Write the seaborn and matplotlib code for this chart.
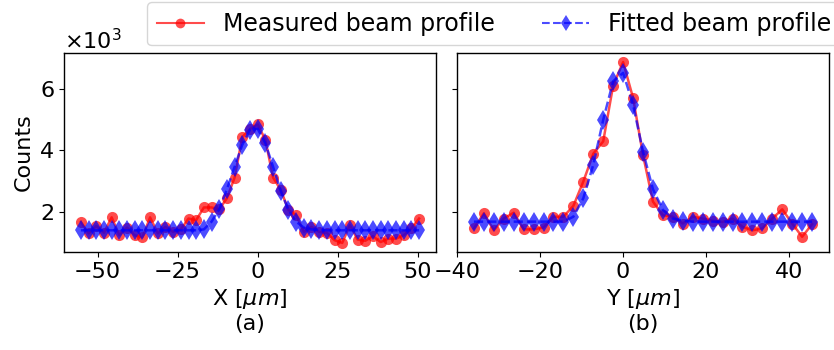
import matplotlib
matplotlib.use("Agg")
import matplotlib.pyplot as plt
from matplotlib.lines import Line2D
from matplotlib.ticker import ScalarFormatter
import seaborn as sns
import pandas as pd

# ---- data ----
x_pos = [-55.2, -52.8, -50.4, -48.0, -45.6, -43.2, -40.8, -38.4, -36.0, -33.6,
         -31.2, -28.8, -26.4, -24.0, -21.6, -19.2, -16.8, -14.4, -12.0, -9.6,
         -7.2, -4.8, -2.4, 0.0, 2.4, 4.8, 7.2, 9.6, 12.0, 14.4,
         16.8, 19.2, 21.6, 24.0, 26.4, 28.8, 31.2, 33.6, 36.0, 38.4,
         40.8, 43.2, 45.6, 48.0, 50.4]
x_measured = [1680, 1310, 1550, 1330, 1830, 1250, 1500, 1250, 1180, 1830,
              1310, 1520, 1360, 1440, 1790, 1740, 2150, 2150, 2090, 2450,
              3120, 4430, 4690, 4840, 4340, 3120, 2720, 2070, 1900, 1360,
              1520, 1360, 1330, 1090, 1000, 1580, 1110, 1070, 1220, 1030,
              1140, 1140, 1250, 1470, 1790]
x_fitted = [1410, 1410, 1410, 1410, 1410, 1410, 1410, 1410, 1410, 1410,
            1410, 1410, 1410, 1410, 1410, 1410, 1440, 1690, 2090, 2740,
            3470, 4180, 4670, 4700, 4230, 3470, 2680, 2070, 1690, 1500,
            1440, 1420, 1410, 1410, 1410, 1410, 1410, 1410, 1410, 1410,
            1410, 1410, 1410, 1410, 1410]

y_pos = [-36.0, -33.6, -31.2, -28.8, -26.4, -24.0, -21.6, -19.2, -16.8, -14.4,
         -12.0, -9.6, -7.2, -4.8, -2.4, 0.0, 2.4, 4.8, 7.2, 9.6,
         12.0, 14.4, 16.8, 19.2, 21.6, 24.0, 26.4, 28.8, 31.2, 33.6,
         36.0, 38.4, 40.8, 43.2, 45.6]
y_measured = [1470, 1960, 1410, 1790, 1980, 1440, 1440, 1500, 1850, 1850,
              2200, 2990, 3890, 4290, 6100, 6860, 5700, 3850, 2340, 1900,
              1850, 1630, 1850, 1790, 1720, 1680, 1790, 1520, 1410, 1470,
              1790, 2090, 1630, 1200, 1610]
y_fitted = [1690, 1690, 1690, 1690, 1690, 1690, 1690, 1690, 1690, 1690,
            1850, 2450, 3530, 4990, 6240, 6510, 5480, 3960, 2740, 2070,
            1790, 1720, 1690, 1690, 1690, 1690, 1690, 1690, 1690, 1690,
            1690, 1690, 1690, 1690, 1690]

legend_labels = ["Measured beam profile", "Fitted beam profile"]

FS = 16
W, H = 834, 350
fig = plt.figure(figsize=(W / 100, H / 100), dpi=100)
ax1 = fig.add_axes([64 / W, 1 - 252 / H, 372 / W, 199 / H])
ax2 = fig.add_axes([457 / W, 1 - 252 / H, 372 / W, 199 / H], sharey=ax1)

meas_kw = dict(color="red", marker="o", linestyle="-", markersize=8, alpha=0.7,
               markeredgewidth=0, linewidth=1.8)
fit_kw = dict(color="blue", marker="d", linestyle="--", markersize=10, alpha=0.7,
              markeredgewidth=0, linewidth=1.8)

df_x = pd.DataFrame({"pos": x_pos, "meas": x_measured, "fit": x_fitted})
df_y = pd.DataFrame({"pos": y_pos, "meas": y_measured, "fit": y_fitted})

for ax, df in [(ax1, df_x), (ax2, df_y)]:
    sns.lineplot(data=df, x="pos", y="meas", ax=ax, sort=False, **meas_kw)
    sns.lineplot(data=df, x="pos", y="fit", ax=ax, sort=False, **fit_kw)
    ax.tick_params(labelsize=FS)
    for s in ax.spines.values():
        s.set_linewidth(1.0)

ax1.set_xlabel("X [$\\mu m$]\n(a)", fontsize=FS)
ax2.set_xlabel("Y [$\\mu m$]\n(b)", fontsize=FS)
ax1.set_ylabel("Counts", fontsize=FS)
ax2.set_ylabel("")
ax1.set_xticks([-50, -25, 0, 25, 50])
ax2.set_xticks([-40, -20, 0, 20, 40])
ax1.set_yticks([2000, 4000, 6000])
plt.setp(ax2.get_yticklabels(), visible=False)

fmt = ScalarFormatter(useMathText=True)
fmt.set_powerlimits((3, 3))
ax1.yaxis.set_major_formatter(fmt)
ax1.yaxis.get_offset_text().set_fontsize(FS)
ax2.yaxis.get_offset_text().set_visible(False)

handles = [Line2D([], [], color="red", marker="o", linestyle="-", markersize=7, alpha=0.7, markeredgewidth=0),
           Line2D([], [], color="blue", marker="d", linestyle="--", markersize=8, alpha=0.7, markeredgewidth=0)]
fig.legend(handles, legend_labels, loc="upper left", bbox_to_anchor=(145 / W, 1.0),
           ncol=2, fontsize=17, frameon=True, borderaxespad=0.1)

fig.savefig("out.png", dpi=100)
